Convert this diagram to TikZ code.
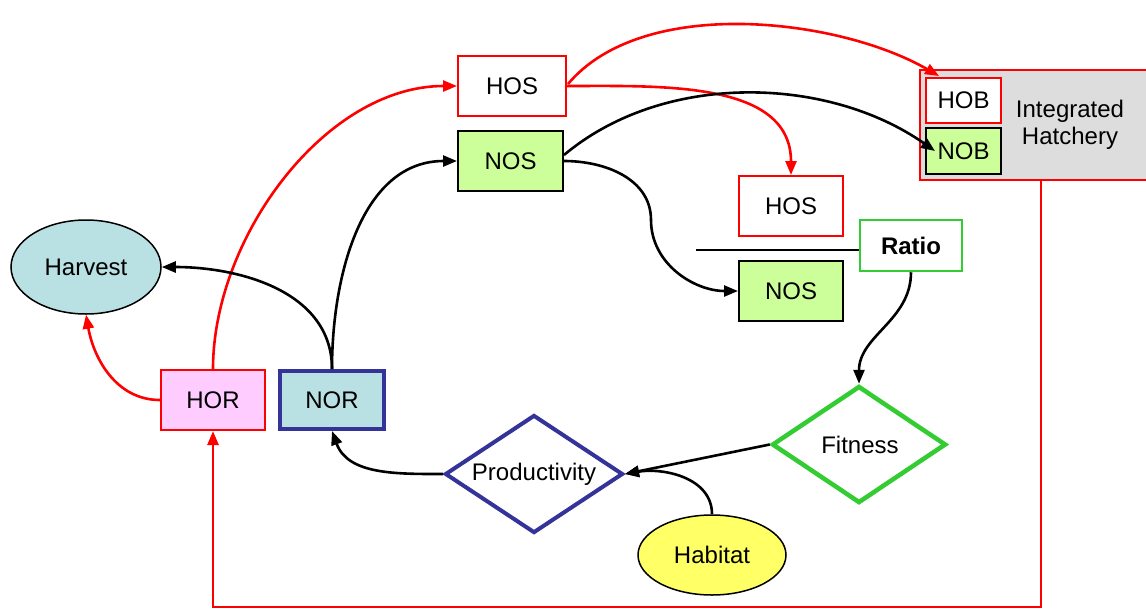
\documentclass[tikz,border=0pt]{standalone}
\usepackage{fontspec}
\setmainfont{Liberation Sans}
\usetikzlibrary{shapes.geometric,arrows.meta,calc}
\definecolor{rd}{HTML}{FF0000}
\definecolor{gfill}{HTML}{CCFF99}
\definecolor{grey}{HTML}{DDDDDD}
\definecolor{teal}{HTML}{B9E0E3}
\definecolor{pink}{HTML}{FFCCFF}
\definecolor{yel}{HTML}{FFFF66}
\definecolor{blu}{HTML}{333399}
\definecolor{grn}{HTML}{33CC33}
\tikzset{
  every node/.style={font=\fontsize{24}{27}\selectfont, inner sep=0pt},
  box/.style={draw, rectangle, minimum width=106pt, minimum height=60pt, line width=2pt},
  redbox/.style={box, draw=rd, fill=white},
  greenbox/.style={box, draw=black, fill=gfill},
  dia/.style={draw, diamond, aspect=1.5, line width=4pt, fill=white},
  ell/.style={draw, ellipse, line width=1.5pt},
  conn/.style={line width=2.6pt, -{Triangle[length=14pt,width=11pt]}},
  rconn/.style={conn, draw=rd, -{Triangle[length=14pt,width=11pt,fill=rd]}, color=rd},
}
\begin{document}
\begin{tikzpicture}[x=1pt,y=-1pt]
\useasboundingbox (0,0) rectangle (1146,611);
% nodes
\node[redbox, minimum width=108pt] (hos1) at (512,86) {HOS};
\node[greenbox, minimum width=105pt] (nos1) at (510.5,161) {NOS};
\node[draw=rd, fill=grey, line width=2.8pt, minimum width=232pt, minimum height=110pt] (hatch) at (1036,125) {};
\node[align=center] (hatchtxt) at (1070,125) {Integrated\\Hatchery};
\node[redbox, minimum width=75pt, minimum height=45pt] (hob) at (963.5,100.5) {HOB};
\node[greenbox, minimum width=75pt, minimum height=46pt] (nob) at (963.5,151) {NOB};
\node[redbox, minimum width=104pt] (hos2) at (791,206) {HOS};
\node[greenbox, minimum width=104pt] (nos2) at (791,291) {NOS};
\node[box, draw=grn, fill=white, minimum width=102pt, minimum height=51pt, line width=2.5pt, font=\fontsize{24}{27}\selectfont\bfseries] (ratio) at (911,245.5) {Ratio};
\coordinate (lineL) at (696,250);
\coordinate (hbot) at (1041,180);
\coordinate (corner) at (213,607);
\node[ell, fill=teal, minimum width=150pt, minimum height=94pt] (harvest) at (86,267) {Harvest};
\node[box, draw=rd, fill=pink, minimum width=104pt] (hor) at (213,400) {HOR};
\node[box, draw=blu, fill=teal, line width=4pt, minimum width=104pt, minimum height=58pt] (nor) at (332,400) {NOR};
\node[dia, draw=blu, minimum width=178pt, minimum height=118pt] (prod) at (534,474) {};
\node (prodtxt) at (534,474) {Productivity};
\node[dia, draw=grn, line width=4.5pt, minimum width=174pt, minimum height=117pt] (fit) at (859,444.5) {};
\node (fittxt) at (860,445) {Fitness};
\node[ell, fill=yel, minimum width=148pt, minimum height=80pt] (hab) at (712,555) {Habitat};
% connectors
\draw[line width=1.8pt] (lineL) -- (lineL -| ratio.west);
\draw[rconn] (hor.west) to[out=180,in=-80] (harvest.south);
\draw[rconn] (hor.north) to[out=90,in=180,looseness=0.9] (hos1.west);
\draw[conn] (nor.north) to[out=90,in=0] (harvest.east);
\draw[conn] (nor.north) to[out=90,in=180] (nos1.west);
\draw[rconn] ($(hos1.east)+(1,-2)$) to[out=50,in=150,looseness=0.8] ($(hob.north west)+(14,-1)$);
\draw[rconn] (hos1.east) to[out=0,in=90] (hos2.north);
\draw[conn] ($(nos1.east)+(0,-6)$) to[out=40,in=145,looseness=0.9] ($(nob.west)+(10,0)$);
\draw[conn] (nos1.east) to[out=0,in=90,looseness=1] ($(lineL)+(-45,-30)$) to[out=-90,in=180] (nos2.west);
\draw[conn] (ratio.south) to[out=-90,in=90] (fit.north);
\draw[conn] (fit.west) -- (prod.east);
\draw[conn] (hab.north) to[out=90,in=10] (prod.east);
\draw[conn] (prod.west) to[out=180,in=-70] (nor.south);
\draw[rconn] (hbot) -- (hbot |- corner) -- (corner) -- (hor.south);
\end{tikzpicture}
\end{document}
